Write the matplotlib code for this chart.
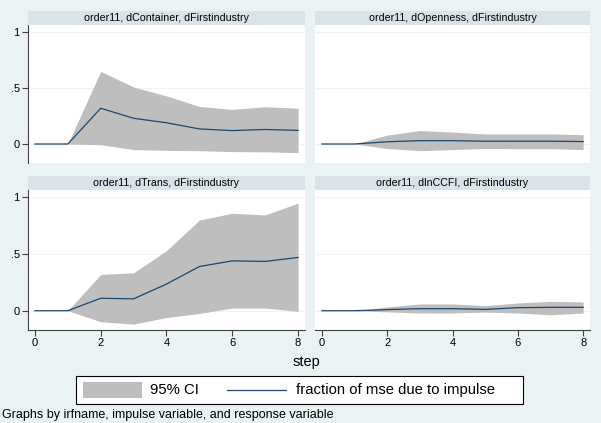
import matplotlib
matplotlib.use("Agg")
import matplotlib.pyplot as plt
from matplotlib.patches import Rectangle
from matplotlib.lines import Line2D

plt.rcParams['font.family'] = ['Liberation Sans', 'DejaVu Sans']

steps = [0, 1, 2, 3, 4, 5, 6, 7, 8]

titles = ["order11, dContainer, dFirstindustry",
          "order11, dOpenness, dFirstindustry",
          "order11, dTrans, dFirstindustry",
          "order11, dlnCCFI, dFirstindustry"]

# fraction of mse due to impulse, with 95% CI bounds
fevd_container = [0, 0, 0.32, 0.23, 0.19, 0.135, 0.12, 0.13, 0.122]
upper_container = [0, 0, 0.65, 0.51, 0.43, 0.336, 0.31, 0.333, 0.32]
lower_container = [0, 0, -0.006, -0.05, -0.057, -0.06, -0.068, -0.07, -0.077]

fevd_openness = [0, 0, 0.02, 0.03, 0.03, 0.025, 0.025, 0.025, 0.022]
upper_openness = [0, 0, 0.08, 0.12, 0.107, 0.09, 0.09, 0.09, 0.083]
lower_openness = [0, 0, -0.04, -0.06, -0.05, -0.04, -0.042, -0.042, -0.05]

fevd_trans = [0, 0, 0.11, 0.105, 0.235, 0.39, 0.44, 0.435, 0.47]
upper_trans = [0, 0, 0.32, 0.335, 0.53, 0.80, 0.86, 0.845, 0.95]
lower_trans = [0, 0, -0.097, -0.118, -0.06, -0.024, 0.024, 0.024, -0.006]

fevd_ccfi = [0, 0, 0.01, 0.018, 0.018, 0.012, 0.027, 0.03, 0.03]
upper_ccfi = [0, 0, 0.033, 0.06, 0.06, 0.045, 0.068, 0.083, 0.077]
lower_ccfi = [0, 0, -0.01, -0.02, -0.02, -0.012, -0.02, -0.036, -0.02]

panels = [(fevd_container, lower_container, upper_container),
          (fevd_openness, lower_openness, upper_openness),
          (fevd_trans, lower_trans, upper_trans),
          (fevd_ccfi, lower_ccfi, upper_ccfi)]

W, H = 601, 423
bg = '#eaf2f3'
strip = '#d9e3e8'
navy = '#1a476f'
ci_gray = '#bebebe'

fig = plt.figure(figsize=(W / 100, H / 100), dpi=100, facecolor=bg)


def fx(px):
    return px / W


def fy(py):
    return 1 - py / H


# pixel boxes: (left, right, top, bottom)
boxes = [(28, 305, 25, 163), (315, 590, 25, 163),
         (28, 305, 190, 330), (315, 590, 190, 330)]

for i, (fevd, lo, hi) in enumerate(panels):
    l, r, t, b = boxes[i]
    ax = fig.add_axes([fx(l), fy(b), (r - l) / W, (b - t) / H])
    ax.set_facecolor('white')
    ax.fill_between(steps, lo, hi, color=ci_gray, linewidth=0, zorder=2)
    ax.plot(steps, fevd, color=navy, linewidth=0.9, zorder=3)
    ax.set_xlim(-0.21, 8.21)
    ax.set_ylim(-0.17, 1.065)
    for y in [0, 0.5, 1]:
        ax.axhline(y, color='#eef3f4', linewidth=0.8, zorder=1)
    for s in ['top', 'right']:
        ax.spines[s].set_visible(False)
    left = i % 2 == 0
    bottom = i >= 2
    ax.spines['left'].set_visible(left)
    ax.spines['bottom'].set_visible(bottom)
    ax.spines['left'].set_color('#404040')
    ax.spines['bottom'].set_color('#404040')
    ax.set_yticks([0, 0.5, 1])
    ax.set_yticklabels(['0', '.5', '1'])
    ax.set_xticks([0, 2, 4, 6, 8])
    ax.tick_params(axis='y', left=left, labelleft=left, length=4,
                   labelsize=8, color='#404040', pad=2)
    ax.tick_params(axis='x', bottom=bottom, labelbottom=bottom, length=4,
                   labelsize=8, color='#404040', pad=2)
    # header strip
    fig.patches.append(Rectangle((fx(l), fy(t)), (r - l) / W, 14 / H,
                                 transform=fig.transFigure, facecolor=strip,
                                 edgecolor='none'))
    fig.text(fx((l + r) / 2), fy(t - 7), titles[i], ha='center',
             va='center', fontsize=7.7)

fig.text(fx(306), fy(362), 'step', ha='center', va='center', fontsize=10.5)

# legend box drawn by hand to match the Stata layout
fig.patches.append(Rectangle((fx(76), fy(404)), (523 - 76) / W, 28 / H,
                             transform=fig.transFigure, facecolor='white',
                             edgecolor='black', linewidth=0.8))
fig.patches.append(Rectangle((fx(83), fy(398)), (142 - 83) / W, 16 / H,
                             transform=fig.transFigure, facecolor=ci_gray,
                             edgecolor='none'))
fig.text(fx(150), fy(390), '95% CI', ha='left', va='center', fontsize=10.7)
fig.lines.append(Line2D([fx(227), fx(286)], [fy(390), fy(390)],
                        transform=fig.transFigure, color=navy, linewidth=0.9))
fig.text(fx(296), fy(390), 'fraction of mse due to impulse', ha='left',
         va='center', fontsize=10.7)

fig.text(fx(2), fy(415), 'Graphs by irfname, impulse variable, and response variable',
         ha='left', va='center', fontsize=9)

fig.savefig('out.png', dpi=100, facecolor=bg)
